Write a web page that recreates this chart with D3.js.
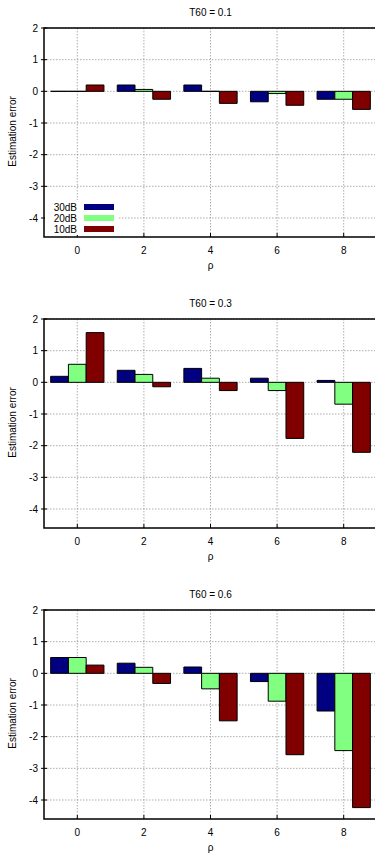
<!DOCTYPE html>
<html>
<head>
<meta charset="utf-8">
<script src="https://cdn.jsdelivr.net/npm/d3@7"></script>
<style>
  body { margin: 0; background: #fff; }
  svg { display: block; font-family: "Liberation Sans", Arial, sans-serif; }
</style>
</head>
<body>
<svg id="chart" width="375" height="854"></svg>
<script>
var rhos = [0, 2, 4, 6, 8];
var seriesNames = ["30dB", "20dB", "10dB"];
var colors = ["#000080", "#80ff80", "#800000"];
var titles = ["T60 = 0.1", "T60 = 0.3", "T60 = 0.6"];
var yTicks = [2, 1, 0, -1, -2, -3, -4];

// values per panel, one array per series (30dB, 20dB, 10dB)
var t01 = [
  [0, 0.2, 0.2, -0.33, -0.25],
  [0, 0.06, 0, -0.07, -0.25],
  [0.2, -0.25, -0.38, -0.44, -0.57]
];
var t03 = [
  [0.19, 0.38, 0.44, 0.13, 0.06],
  [0.57, 0.25, 0.13, -0.26, -0.69],
  [1.57, -0.14, -0.26, -1.77, -2.21]
];
var t06 = [
  [0.5, 0.32, 0.2, -0.26, -1.19],
  [0.5, 0.19, -0.49, -0.88, -2.44],
  [0.26, -0.32, -1.5, -2.57, -4.24]
];
var panels = [t01, t03, t06];

var svg = d3.select("#chart"),
    left = 44, right = 377,
    tops = [28, 319, 610],
    h = 209,
    barW = 0.5333;

var x = d3.scaleLinear().domain([-1, 9]).range([left, right]);

panels.forEach(function(vals, p) {
  var top = tops[p];
  var y = d3.scaleLinear().domain([-4.6, 2]).range([top + h, top]);
  var g = svg.append("g");

  // grid
  g.append("g").selectAll("line")
    .data(yTicks)
    .enter().append("line")
      .attr("x1", left).attr("x2", right)
      .attr("y1", function(d) { return y(d); })
      .attr("y2", function(d) { return y(d); })
      .attr("stroke", "#999").attr("stroke-width", 0.8)
      .attr("stroke-dasharray", "1.5,1.5");
  g.append("g").selectAll("line")
    .data(rhos)
    .enter().append("line")
      .attr("x1", function(d) { return x(d); })
      .attr("x2", function(d) { return x(d); })
      .attr("y1", top).attr("y2", top + h)
      .attr("stroke", "#999").attr("stroke-width", 0.8)
      .attr("stroke-dasharray", "1.5,1.5");

  // bars (paths so zero-height bars still show as a line)
  vals.forEach(function(s, k) {
    g.append("g").selectAll("path")
      .data(s)
      .enter().append("path")
        .attr("d", function(d, i) {
          var x0 = x(rhos[i] + (k - 1.5) * barW),
              x1 = x(rhos[i] + (k - 0.5) * barW);
          return "M" + x0 + "," + y(0) + "V" + y(d) + "H" + x1 + "V" + y(0) + "Z";
        })
        .attr("fill", colors[k])
        .attr("stroke", "#000")
        .attr("stroke-width", 1);
  });

  // border (left, top, bottom)
  g.append("path")
    .attr("d", "M" + right + "," + top + "H" + left + "V" + (top + h) + "H" + right)
    .attr("fill", "none").attr("stroke", "#000").attr("stroke-width", 1.5);

  // y ticks
  g.append("g").selectAll("line")
    .data(yTicks)
    .enter().append("line")
      .attr("x1", left - 3).attr("x2", left + 3)
      .attr("y1", function(d) { return y(d); })
      .attr("y2", function(d) { return y(d); })
      .attr("stroke", "#000");
  g.append("g").selectAll("text")
    .data(yTicks)
    .enter().append("text")
      .attr("x", left - 6)
      .attr("y", function(d) { return y(d); })
      .attr("dy", "0.35em")
      .attr("text-anchor", "end")
      .attr("font-size", 10)
      .text(function(d) { return d; });

  // x ticks
  g.append("g").selectAll("line")
    .data(rhos)
    .enter().append("line")
      .attr("x1", function(d) { return x(d); })
      .attr("x2", function(d) { return x(d); })
      .attr("y1", top + h).attr("y2", top + h - 4)
      .attr("stroke", "#000");
  g.append("g").selectAll("text")
    .data(rhos)
    .enter().append("text")
      .attr("x", function(d) { return x(d); })
      .attr("y", top + h + 13)
      .attr("dy", "0.35em")
      .attr("text-anchor", "middle")
      .attr("font-size", 10)
      .text(function(d) { return d; });

  // labels
  var cx = (left + right) / 2;
  g.append("text")
    .attr("x", cx).attr("y", top - 16)
    .attr("dy", "0.35em")
    .attr("text-anchor", "middle")
    .attr("font-size", 10)
    .text(titles[p]);
  g.append("text")
    .attr("x", cx).attr("y", top + h + 28)
    .attr("dy", "0.35em")
    .attr("text-anchor", "middle")
    .attr("font-size", 10)
    .text("ρ");
  g.append("text")
    .attr("transform", "translate(12," + (top + h / 2 - 1) + ") rotate(-90)")
    .attr("dy", "0.35em")
    .attr("text-anchor", "middle")
    .attr("font-size", 10)
    .text("Estimation error");

  // legend on first panel
  if (p === 0) {
    var lg = g.append("g");
    lg.append("rect")
      .attr("x", left + 1).attr("y", top + h - 37)
      .attr("width", 73).attr("height", 35)
      .attr("fill", "#fff");
    var item = lg.selectAll("g")
      .data(seriesNames)
      .enter().append("g")
        .attr("transform", function(d, i) { return "translate(0," + (top + h - 30 + i * 11) + ")"; });
    item.append("text")
      .attr("x", 77)
      .attr("dy", "0.35em")
      .attr("text-anchor", "end")
      .attr("font-size", 10)
      .text(function(d) { return d; });
    item.append("rect")
      .attr("x", 84).attr("y", -3)
      .attr("width", 30).attr("height", 6)
      .attr("fill", function(d, i) { return colors[i]; });
  }
});
</script>
</body>
</html>
